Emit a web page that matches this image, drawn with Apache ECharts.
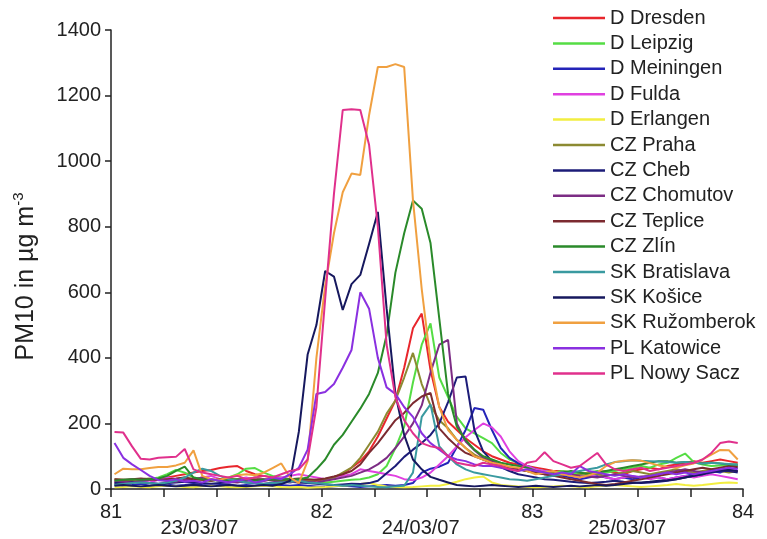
<!DOCTYPE html>
<html>
<head>
<meta charset="utf-8">
<script src="https://cdn.jsdelivr.net/npm/echarts@6/dist/echarts.min.js"></script>
<style>
  html, body { margin: 0; padding: 0; background: #fff; }
  #chart { width: 767px; height: 539px; }
</style>
</head>
<body>
<div id="chart"></div>
<script>
// hourly PM10 values, day 81 to 84 (hour h plotted at day 81 + (h + 0.4) / 24)
const dresden = [20,25,28,30,28,30,35,40,45,50, 55,58,64,68,70,55,45,40,35,30, 25,20,22,25,30,37,45,65,85,115, 160,215,270,370,490,535,363,250,205,180, 155,135,115,100,90,80,75,70,65,60, 55,55,50,50,45,50,55,50,45,55, 60,65,60,70,75,80,85,80,85,90, 85,80]
const leipzig = [15,18,20,25,30,35,45,58,50,35, 30,25,30,35,45,62,64,50,40,35, 30,25,20,18,20,22,25,28,30,35, 45,70,125,190,325,440,505,340,280,220, 185,170,155,140,110,90,80,70,60,55, 50,55,50,45,50,55,50,55,60,65, 70,65,75,80,95,108,82,75,70,72, 75,70]
const meiningen = [12,10,12,15,10,12,14,10,12,15, 12,10,12,14,10,12,10,12,14,12, 10,12,10,8,6,8,10,8,6,8, 10,12,10,12,18,50,62,68,80,128, 180,247,242,180,125,95,78,70,60,50, 45,40,35,30,35,40,35,30,35,30, 35,40,35,30,35,40,45,50,55,50, 60,65]
const fulda = [20,25,30,25,20,28,35,30,25,30, 35,40,30,25,30,35,28,25,30,35, 40,45,40,35,30,35,40,45,60,55, 50,45,40,30,27,35,50,75,100,130, 158,180,200,188,160,115,85,70,60,55, 50,45,40,35,40,45,35,30,35,40, 35,30,35,30,35,40,35,40,45,40, 35,30]
const erlangen = [5,6,8,6,5,8,10,8,6,5, 8,10,8,6,5,6,8,10,8,6, 5,6,4,5,6,8,10,12,15,18, 12,8,6,5,6,8,10,10,15,22, 30,35,38,20,12,10,8,6,5,6, 8,10,8,6,5,8,10,12,10,8, 6,8,10,12,15,12,10,12,15,18, 20,18]
const praha = [30,28,25,30,32,28,25,30,35,30, 28,25,30,32,28,30,35,30,28,25, 30,28,25,28,30,35,50,65,95,135, 175,230,270,340,415,320,255,210,185,150, 125,105,90,80,75,65,60,55,50,45, 50,45,40,45,50,45,40,45,50,55, 50,45,50,55,60,55,50,55,60,55, 50,55]
const cheb = [18,20,22,20,18,16,18,20,22,20, 18,16,18,20,22,20,18,16,18,20, 22,20,18,16,14,12,14,16,15,18, 25,48,70,98,120,140,165,200,265,340, 343,180,115,85,67,55,45,40,35,30, 28,25,22,20,18,20,22,25,22,20, 18,20,22,25,30,35,40,45,50,55, 55,50]
const chomutov = [25,22,20,25,28,30,25,22,28,30, 35,30,25,22,20,25,28,30,25,22, 20,25,22,20,25,30,35,40,50,60, 75,95,125,160,200,255,355,440,455,200, 145,118,95,85,75,65,60,55,50,45, 40,42,45,40,38,35,40,45,40,35, 38,40,45,50,55,60,55,50,55,60, 58,55]
const teplice = [30,28,30,32,30,28,30,32,35,30, 28,25,30,28,25,30,28,25,30,28, 30,32,30,28,32,38,45,55,75,110, 140,175,210,232,262,282,293,185,155,130, 110,100,90,80,70,65,60,55,50,45, 40,35,30,25,20,15,12,15,20,25, 30,35,40,45,50,55,60,65,60,65, 70,68]
const zlin = [25,28,30,28,30,32,40,55,68,35, 30,28,25,28,30,28,25,28,30,28, 30,30,35,60,90,135,165,205,245,290, 354,470,660,780,880,855,750,520,290,190, 150,120,100,90,80,75,70,65,55,50, 45,50,55,50,45,50,55,60,65,70, 75,80,85,85,80,82,80,78,80,78, 75,75]
const bratislava = [12,15,18,20,18,15,20,25,35,50, 62,55,40,30,25,20,18,15,18,20, 22,25,20,18,15,12,10,12,10,8, 6,5,8,10,50,220,258,130,100,75, 60,50,45,40,35,30,28,25,30,35, 40,45,50,55,60,65,75,82,85,88, 86,85,84,82,80,82,80,78,80,78, 76,74]
const kosice = [10,12,10,8,10,12,10,8,10,12, 10,8,10,12,10,8,10,12,10,15, 25,175,410,500,665,648,546,625,653,747, 845,550,290,165,90,60,37,28,20,12, 10,8,10,12,10,8,6,8,10,8, 6,8,10,8,10,12,10,12,15,18, 20,22,25,27,30,35,40,45,55,58, 58,55]
const ruzomberok = [45,62,60,60,64,67,67,72,80,118, 40,30,28,35,42,45,42,50,64,78, 35,18,85,400,620,780,905,962,958,1140, 1287,1287,1296,1287,881,610,390,250,180,150, 125,100,90,80,75,68,65,55,45,50, 55,45,40,35,42,50,70,82,86,88, 86,79,72,68,65,72,78,90,105,119, 118,90]
const katowice = [140,95,75,58,40,27,25,30,22,25, 20,30,25,20,25,30,20,25,35,30, 45,65,120,290,296,320,370,424,600,550, 400,310,290,250,220,170,140,120,100,90, 85,75,70,70,65,60,55,60,55,50, 45,50,45,70,55,50,45,40,45,40, 35,40,45,50,45,50,45,50,55,60, 65,60]
const nowySacz = [174,172,130,92,90,95,97,98,122,60, 50,45,40,35,40,30,35,40,35,45, 55,60,90,250,580,900,1156,1158,1156,1050, 800,440,280,210,170,140,130,125,100,80, 75,70,80,75,70,60,55,80,85,112, 85,75,65,70,90,110,75,60,55,60, 65,55,60,65,70,75,80,90,110,140, 145,140]

const stations = ['D Dresden', 'D Leipzig', 'D Meiningen', 'D Fulda', 'D Erlangen',
  'CZ Praha', 'CZ Cheb', 'CZ Chomutov', 'CZ Teplice', 'CZ Zlín',
  'SK Bratislava', 'SK Košice', 'SK Ružomberok', 'PL Katowice', 'PL Nowy Sacz']
const values = [dresden, leipzig, meiningen, fulda, erlangen,
  praha, cheb, chomutov, teplice, zlin,
  bratislava, kosice, ruzomberok, katowice, nowySacz]
const colors = ['#e8262c', '#55dd44', '#2424b8', '#e040e0', '#f2ee40',
  '#8c8a32', '#1c1c78', '#7c2c84', '#7c2a30', '#2a8a2a',
  '#3a9aa0', '#16185e', '#f0a040', '#8a30e0', '#e0308c']

const dayTicks = [81, 82, 83, 84]
const dateLabels = ['23/03/07', '24/03/07', '25/03/07']
const datePos = [81.42, 82.47, 83.45]

const font = 'Liberation Sans, Arial, sans-serif'

let myChart = echarts.init(document.getElementById('chart'))

let series = stations.map((name, i) => ({
  name: name,
  type: 'line',
  symbol: 'none',
  color: colors[i],
  lineStyle: { width: 2, color: colors[i] },
  data: values[i].map((v, h) => [81 + (h + 0.4) / 24, v])
}))

myChart.setOption({
  animation: false,
  backgroundColor: '#fff',
  grid: { left: 111, right: 24, top: 30, bottom: 50 },
  legend: {
    data: stations,
    orient: 'vertical',
    left: 553,
    top: 8,
    padding: 0,
    icon: 'rect',
    itemWidth: 52,
    itemHeight: 2.5,
    itemGap: 5.4,
    textStyle: { fontFamily: font, fontSize: 20, color: '#222', lineHeight: 20 }
  },
  xAxis: [
    {
      type: 'value',
      min: dayTicks[0],
      max: dayTicks[dayTicks.length - 1],
      interval: 1,
      splitLine: { show: false },
      axisLine: { lineStyle: { color: '#222', width: 1.5 } },
      axisTick: { inside: false, length: 8, lineStyle: { color: '#222', width: 1.5 } },
      minorTick: { show: true, splitNumber: 4, length: 8, lineStyle: { color: '#222', width: 1.5 } },
      axisLabel: { margin: 13, fontFamily: font, fontSize: 20, color: '#222' }
    },
    {
      type: 'value',
      position: 'bottom',
      min: dayTicks[0],
      max: dayTicks[dayTicks.length - 1],
      splitLine: { show: false },
      axisLine: { show: false },
      axisTick: { show: false },
      axisLabel: {
        margin: 29,
        fontFamily: font,
        fontSize: 20,
        color: '#222',
        customValues: datePos,
        formatter: function (v) {
          let i = datePos.indexOf(v)
          return i >= 0 ? dateLabels[i] : ''
        }
      }
    }
  ],
  yAxis: {
    type: 'value',
    min: 0,
    max: 1400,
    interval: 200,
    splitLine: { show: false },
    axisLine: { show: true, lineStyle: { color: '#222', width: 1.5 } },
    axisTick: { show: true, inside: false, length: 6, lineStyle: { color: '#222', width: 1.5 } },
    axisLabel: {
      margin: 10, fontFamily: font, fontSize: 20, color: '#222',
      formatter: function (v) { return String(v) }
    },
    name: '{a|PM10 in µg m}{b|-3}',
    nameLocation: 'middle',
    nameGap: 70,
    nameTextStyle: {
      padding: [0, 34, 0, 0],
      rich: {
        a: { fontFamily: font, fontSize: 25, color: '#222', lineHeight: 30 },
        b: { fontFamily: font, fontSize: 15, color: '#222', lineHeight: 30, verticalAlign: 'top' }
      }
    }
  },
  series: series
})
</script>
</body>
</html>
